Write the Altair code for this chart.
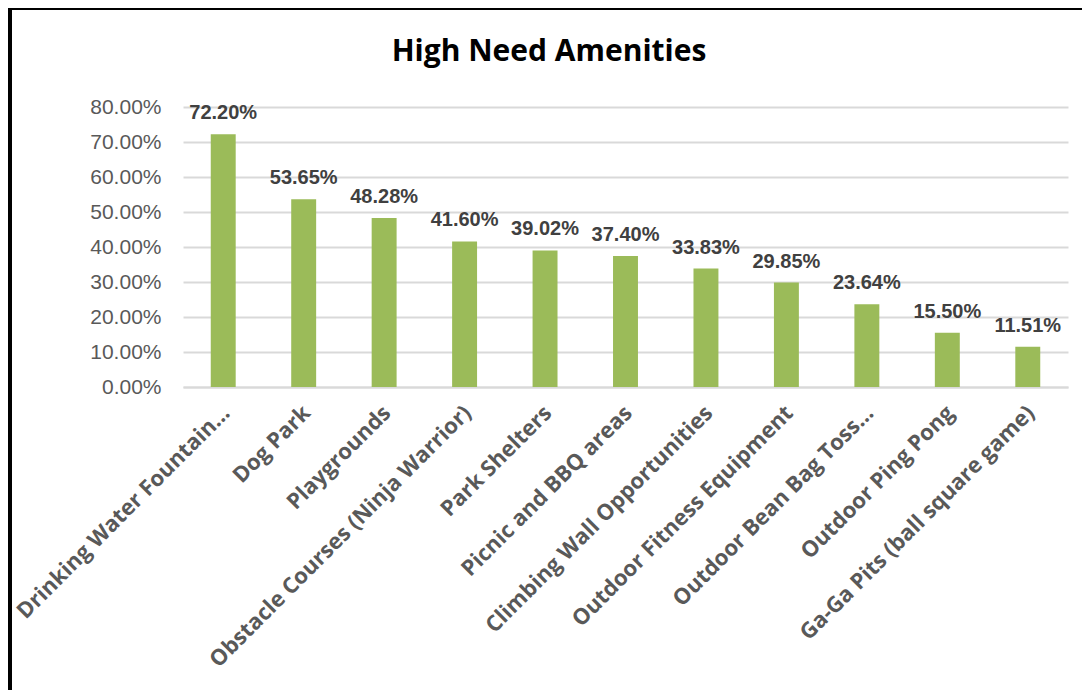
import altair as alt
import pandas as pd

categories = [
    "Drinking Water Fountain…",
    "Dog Park",
    "Playgrounds",
    "Obstacle Courses (Ninja Warrior)",
    "Park Shelters",
    "Picnic and BBQ areas",
    "Climbing Wall Opportunities",
    "Outdoor Fitness Equipment",
    "Outdoor Bean Bag Toss…",
    "Outdoor Ping Pong",
    "Ga-Ga Pits (ball square game)",
]
values = [0.7220, 0.5365, 0.4828, 0.4160, 0.3902, 0.3740, 0.3383, 0.2985, 0.2364, 0.1550, 0.1151]
y_ticks = [0.0, 0.1, 0.2, 0.3, 0.4, 0.5, 0.6, 0.7, 0.8]
title_text = ["High Need Amenities"]

df = pd.DataFrame({"amenity": categories, "share": values})
tdf = pd.DataFrame({"t": title_text})

W, H = 885, 280
PL, PT, PR, PB = 175, 99, 14, 303

x_axis = alt.Axis(
    labelAngle=-45,
    labelAlign="right",
    labelBaseline="middle",
    labelFont="Open Sans",
    labelFontWeight="bold",
    labelFontSize=22,
    labelColor="#595959",
    labelPadding=22,
    labelOffset=3,
    labelLimit=500,
    labelOverlap=False,
    ticks=False,
    domainColor="#d9d9d9",
    domainWidth=2,
)
y_axis = alt.Axis(
    values=y_ticks,
    format=".2%",
    labelFont="Liberation Sans",
    labelFontSize=21,
    labelColor="#595959",
    labelPadding=22,
    labelOverlap=False,
    ticks=False,
    domain=False,
    gridColor="#d9d9d9",
    gridWidth=2,
)
x_scale = alt.Scale(paddingInner=0.69, paddingOuter=0.345)
y_scale = alt.Scale(domain=[0, 0.8], nice=False)


def x_enc():
    return alt.X("amenity:N", sort=categories, title=None, scale=x_scale, axis=x_axis)


def y_enc():
    return alt.Y("share:Q", title=None, scale=y_scale, axis=y_axis)


bars = alt.Chart(df).mark_bar(color="#9bbb59").encode(x=x_enc(), y=y_enc())

labels = alt.Chart(df).mark_text(
    font="Liberation Sans",
    fontWeight="bold",
    fontSize=20,
    color="#404040",
    baseline="alphabetic",
    dy=-15,
).encode(
    x=x_enc(),
    y=y_enc(),
    text=alt.Text("share:Q", format=".2%"),
)

title = alt.Chart(tdf).mark_text(
    font="Open Sans",
    fontWeight="bold",
    fontSize=30,
    color="black",
    align="center",
    baseline="middle",
).encode(text="t:N", x=alt.value(366), y=alt.value(-55))

left_border = alt.Chart(tdf).mark_rule(color="black", strokeWidth=4).encode(
    x=alt.value(-PL + 2), y=alt.value(-PT), y2=alt.value(H + PB)
)
top_border = alt.Chart(tdf).mark_rule(color="black", strokeWidth=4).encode(
    y=alt.value(-PT + 0), x=alt.value(-PL), x2=alt.value(W + PR)
)

chart = (
    alt.layer(bars, labels, title, left_border, top_border)
    .properties(
        width=W,
        height=H,
        autosize=alt.AutoSizeParams(type="none"),
        padding={"left": PL, "top": PT, "right": PR, "bottom": PB},
    )
    .configure_view(stroke=None)
)

chart.save("out.html", embed_options={"renderer": "svg", "actions": False})
